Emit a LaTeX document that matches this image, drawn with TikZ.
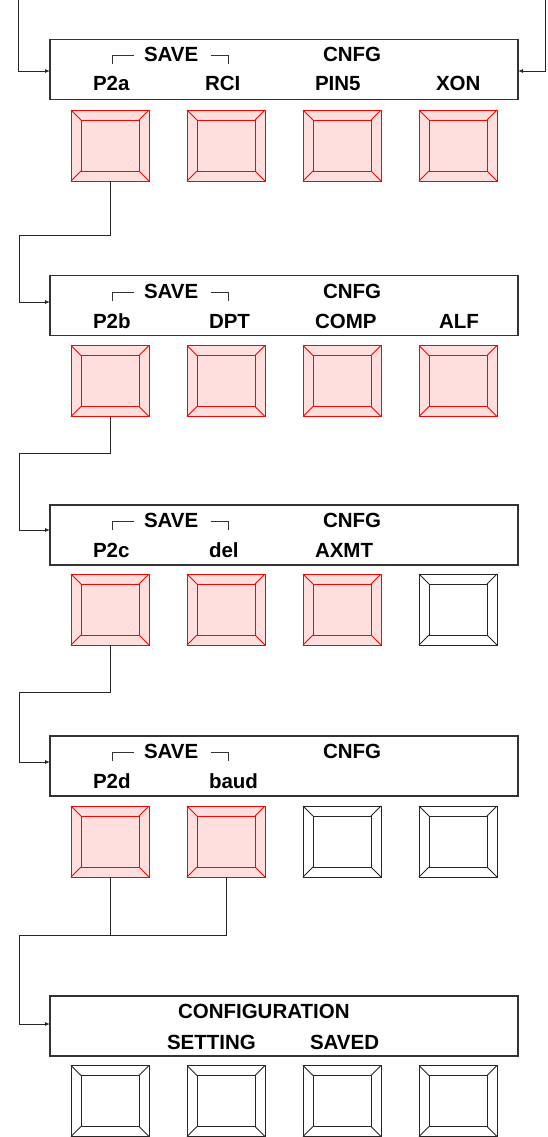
\documentclass[tikz,border=0pt]{standalone}
\usepackage{fontspec}
\setmainfont{Liberation Sans}
\usetikzlibrary{arrows.meta,calc}
\tikzset{
 panel/.style={draw=black!80, line width=1.2pt, minimum width=468pt, minimum height=60pt, inner sep=0pt, outer sep=0pt},
 lbl/.style={anchor=base west, inner sep=0pt, outer sep=0pt, font=\fontsize{20.5}{24}\selectfont\bfseries},
 btnbox/.style={minimum width=78pt, minimum height=71pt, inner sep=0pt, outer sep=0pt},
 redb/.style={draw=red, fill=red!13, line width=0.9pt},
 grayb/.style={draw=black!85, fill=white, line width=0.9pt},
 conn/.style={draw=black!85, line width=0.9pt},
 arr/.style={-{Latex[length=5pt,width=4pt]}},
 brk/.style={draw=black!80, line width=0.8pt},
}
\newcommand\mybtn[4]{%
 \node[btnbox,#4] (#1) at (#2,#3) {};
 \draw[#4] ($(#1.north west)+(10,10)$) rectangle ($(#1.south east)+(-10,-10)$);
 \draw[#4] (#1.north west) -- ++(10,10) (#1.north east) -- ++(-10,10)
           (#1.south west) -- ++(10,-10) (#1.south east) -- ++(-10,-10);
}
\newcommand\savebracket[1]{%
 \draw[brk] (112,{#1+25}) -- (112,{#1+16}) -- (134,{#1+16})
            (211,{#1+16}) -- (228,{#1+16}) -- (228,{#1+25});
}
\begin{document}
\begin{tikzpicture}[x=1pt,y=-1pt]
\useasboundingbox (0,0) rectangle (548,1137);

% panels
\node[panel] (p1) at (284,69.5) {};
\node[panel] (p2) at (284,305.5) {};
\node[panel] (p3) at (284,535) {};
\node[panel] (p4) at (284,766) {};
\node[panel] (p5) at (284,1026) {};

% panel 1
\savebracket{39}
\node[lbl] (s1) at (144,61.5) {SAVE};
\node[lbl] (c1) at (323,61.5) {CNFG};
\node[lbl] (a1) at (93,91) {P2a};
\node[lbl] (b1) at (205,91) {RCI};
\node[lbl] (d1) at (315,91) {PIN5};
\node[lbl] (e1) at (436,91) {XON};
% panel 2
\savebracket{276}
\node[lbl] (s2) at (144,298.5) {SAVE};
\node[lbl] (c2) at (323,298.5) {CNFG};
\node[lbl] (a2) at (93,328) {P2b};
\node[lbl] (b2) at (209,328) {DPT};
\node[lbl] (d2) at (315,328) {COMP};
\node[lbl] (e2) at (439,328) {ALF};
% panel 3
\savebracket{505}
\node[lbl] (s3) at (144,527.5) {SAVE};
\node[lbl] (c3) at (323,527.5) {CNFG};
\node[lbl] (a3) at (93,557) {P2c};
\node[lbl] (b3) at (209,557) {del};
\node[lbl] (d3) at (315,557) {AXMT};
% panel 4
\savebracket{736}
\node[lbl] (s4) at (144,758.5) {SAVE};
\node[lbl] (c4) at (323,758.5) {CNFG};
\node[lbl] (a4) at (93,788) {P2d};
\node[lbl] (b4) at (209,788) {baud};
% panel 5
\node[lbl] (s5) at (178,1018) {CONFIGURATION};
\node[lbl] (a5) at (167,1049) {SETTING};
\node[lbl] (b5) at (310,1049) {SAVED};

% buttons
\mybtn{b11}{110}{145.5}{redb}
\mybtn{b12}{226}{145.5}{redb}
\mybtn{b13}{342}{145.5}{redb}
\mybtn{b14}{458}{145.5}{redb}
\mybtn{b21}{110}{381}{redb}
\mybtn{b22}{226}{381}{redb}
\mybtn{b23}{342}{381}{redb}
\mybtn{b24}{458}{381}{redb}
\mybtn{b31}{110}{609.5}{redb}
\mybtn{b32}{226}{609.5}{redb}
\mybtn{b33}{342}{609.5}{redb}
\mybtn{b34}{458}{609.5}{grayb}
\mybtn{b41}{110}{841.5}{redb}
\mybtn{b42}{226}{841.5}{redb}
\mybtn{b43}{342}{841.5}{grayb}
\mybtn{b44}{458}{841.5}{grayb}
\mybtn{b51}{110}{1101}{grayb}
\mybtn{b52}{226}{1101}{grayb}
\mybtn{b53}{342}{1101}{grayb}
\mybtn{b54}{458}{1101}{grayb}

% connectors
\coordinate (tl) at (18,0);
\coordinate (tr) at (545,0);
\coordinate (k1) at (19,235);
\coordinate (k2) at (19,453);
\coordinate (k3) at (19,692);
\coordinate (k4) at (19,935);
\draw[conn,arr] (tl) |- ([yshift=-1.5pt]p1.west);
\draw[conn,arr] (tr) |- ([yshift=-1.5pt]p1.east);
\draw[conn] (b11.south) |- (k1);
\draw[conn,arr] (k1) |- ([yshift=3.5pt]p2.west);
\draw[conn] (b21.south) |- (k2);
\draw[conn,arr] (k2) |- ([yshift=5pt]p3.west);
\draw[conn] (b31.south) |- (k3);
\draw[conn,arr] (k3) |- ([yshift=4pt]p4.west);
\draw[conn] (b41.south) |- (k4);
\draw[conn] (b42.south) |- (k4);
\draw[conn,arr] (k4) |- ([yshift=2pt]p5.west);
\end{tikzpicture}
\end{document}
